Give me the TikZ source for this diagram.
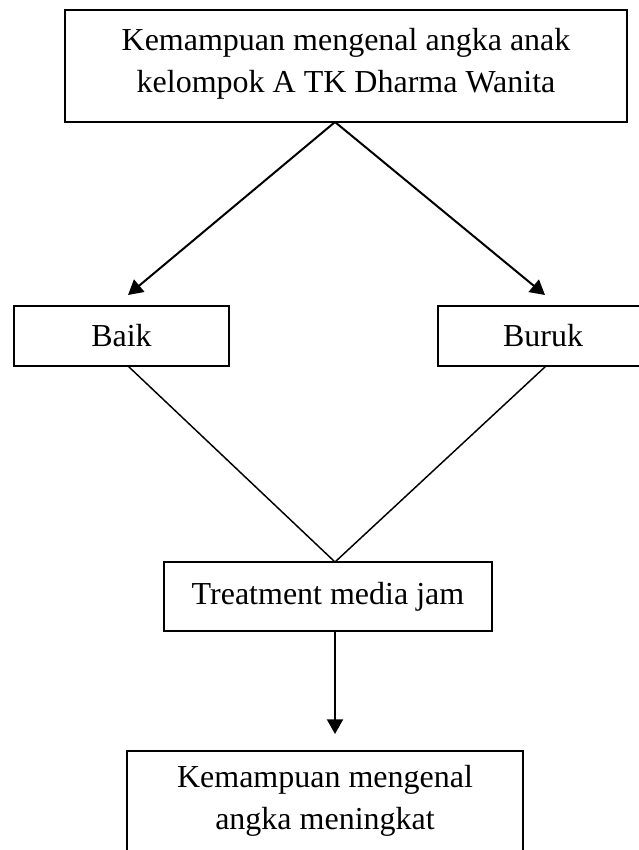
\documentclass[tikz,border=0pt]{standalone}
\usepackage{fontspec}
\setmainfont{Liberation Serif}
\usetikzlibrary{arrows.meta,positioning}

\begin{document}
\begin{tikzpicture}[
  x=0.75pt,y=-0.75pt,
  box/.style={draw,line width=1.5pt,align=center,inner sep=0pt,
    font=\fontsize{24}{31.5}\selectfont},
  a/.style={-{Triangle[length=11pt,width=12pt]},line width=1.5pt},
  l/.style={line width=1.1pt}
]
  \useasboundingbox (0,0) rectangle (639,850);
  \clip (0,0) rectangle (639,850);
  \node[box,minimum width=421.5pt,minimum height=84pt,text depth=9pt] (top) at (346,66)
    {Kemampuan mengenal angka anak\\kelompok A TK Dharma Wanita};
  \node[box,minimum width=161.25pt,minimum height=45pt] (baik) at (121.5,336) {Baik};
  \node[box,minimum width=157.5pt,minimum height=45pt] (buruk) at (543,336) {Buruk};
  \node[box,minimum width=246pt,minimum height=51.75pt] (treat) at (328,596.5)
    {Treatment media jam};
  \node[box,minimum width=297pt,minimum height=75pt] (hasil) at (325,801)
    {Kemampuan mengenal\\angka meningkat};
  % ujung panah dan titik pertemuan
  \coordinate (apex) at (335,122);
  \coordinate (tb) at (128,295);
  \coordinate (tr) at (545,295);
  \coordinate (sb) at (128,366);
  \coordinate (sr) at (546,366);
  \coordinate (mid) at (335,562);
  \coordinate (down) at (335,631);
  \coordinate (end) at (335,734);
  \foreach \x/\y in {apex/tb,apex/tr,down/end}
    {\draw[a] (\x) -- (\y);}
  \foreach \x in {sb,sr}
    {\draw[l] (\x) -- (mid);}
\end{tikzpicture}
\end{document}
